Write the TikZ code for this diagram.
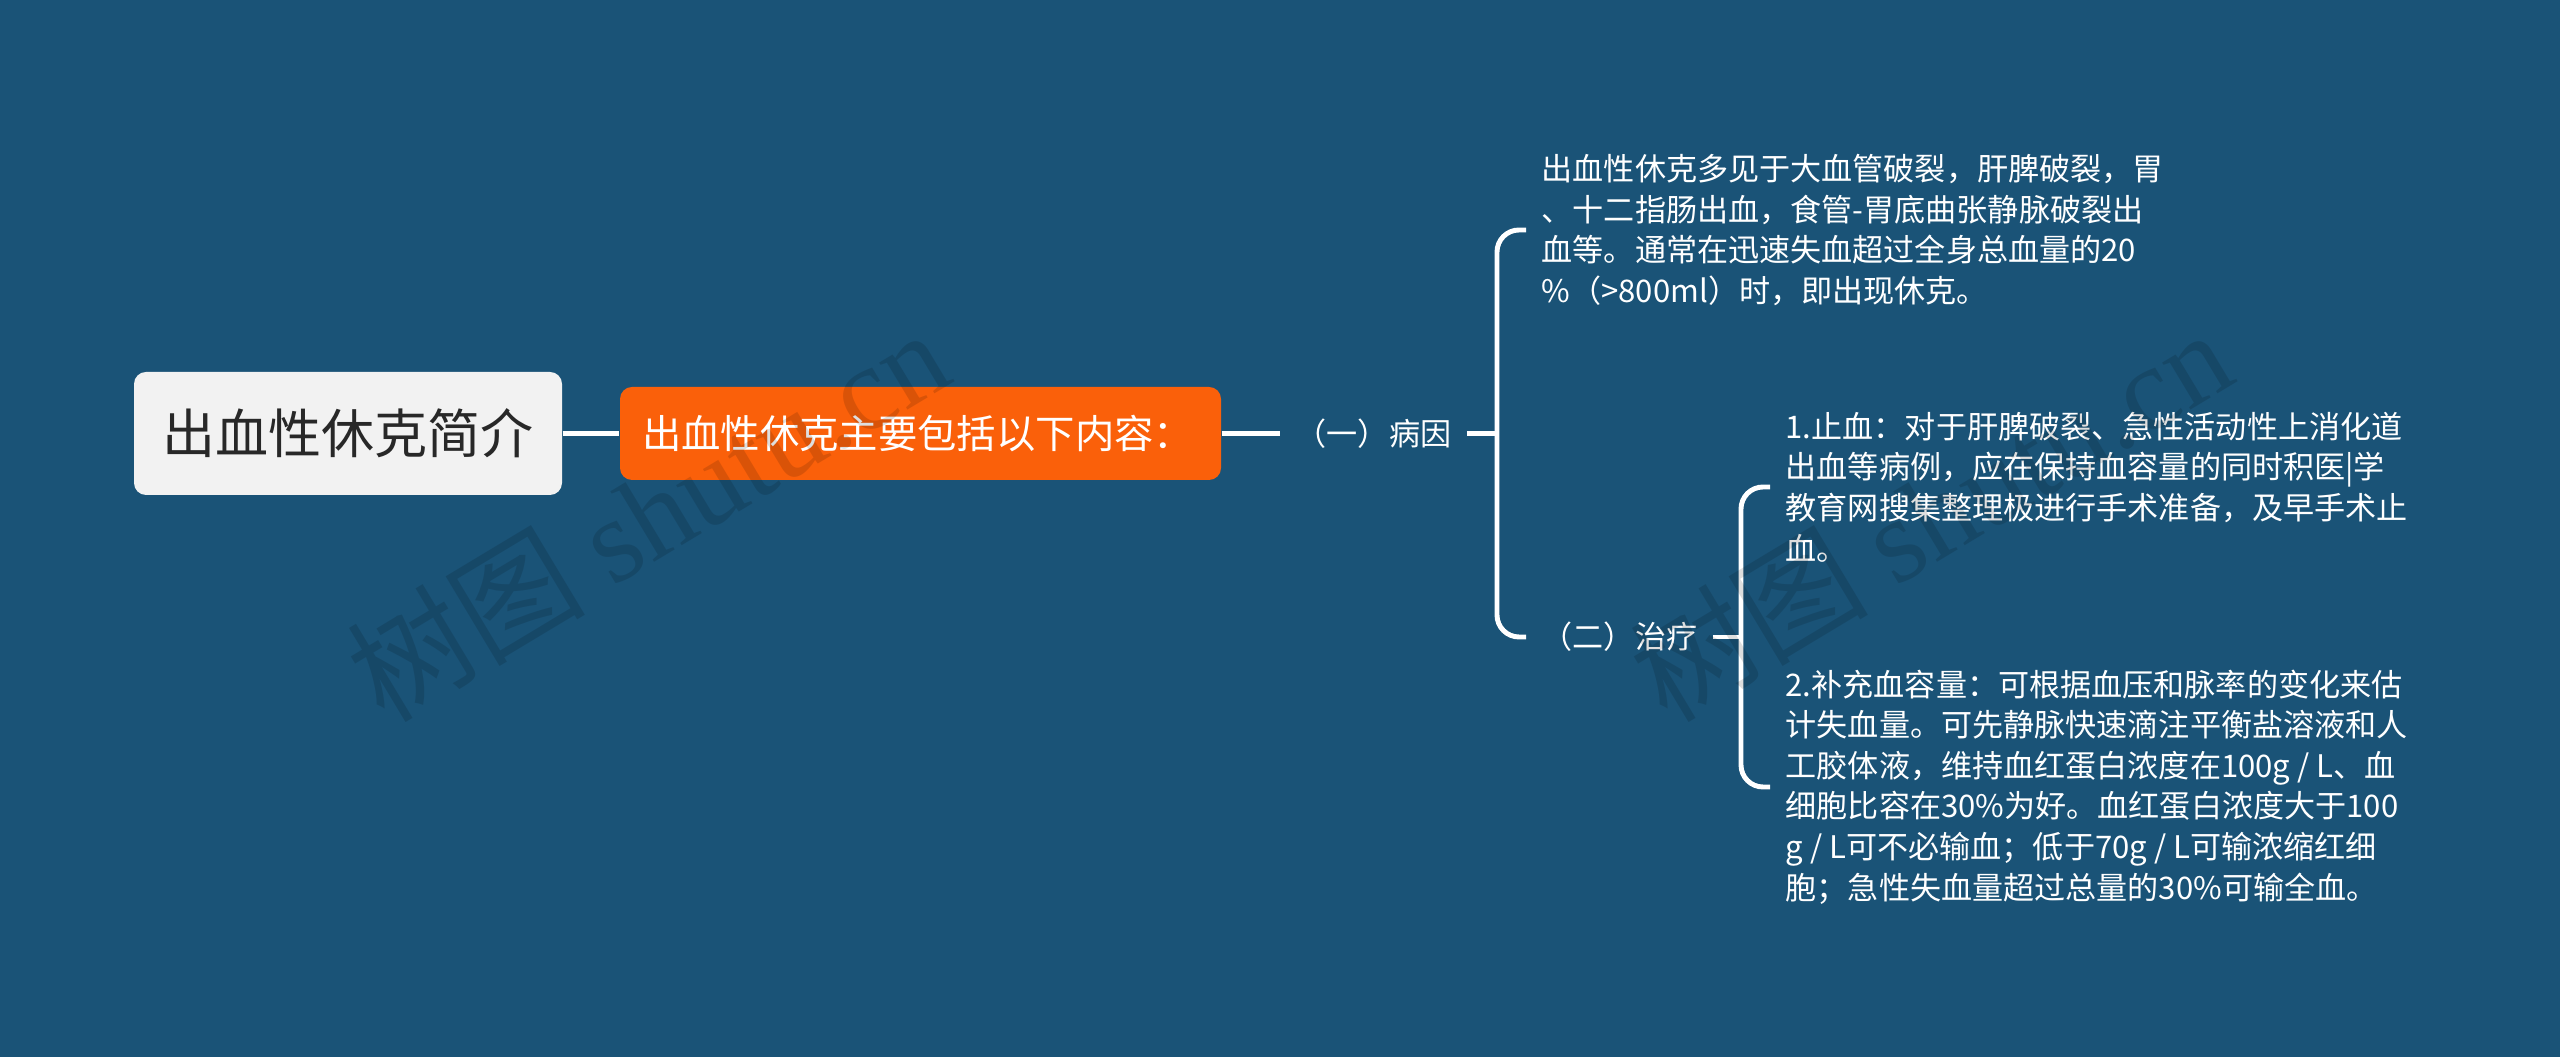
\documentclass[tikz,border=0pt]{standalone}
\usepackage{fontspec}
\setmainfont{Noto Sans CJK SC}
\newfontfamily\wmfont{Liberation Serif}
\definecolor{bgblue}{RGB}{26,83,119}
\definecolor{mainorange}{RGB}{250,96,10}
\definecolor{rootgray}{RGB}{242,242,242}
\definecolor{roottext}{RGB}{40,40,40}

\begin{document}
\begin{tikzpicture}[
  link/.style={draw=white, line width=1.4pt},
  rootbox/.style={fill=rootgray, text=roottext, rounded corners=0.12cm, minimum width=4.28cm, minimum height=1.23cm, font=\fontsize{15.1pt}{18pt}\selectfont},
  mainbox/.style={fill=mainorange, text=white, rounded corners=0.12cm, inner xsep=0.22cm, text width=5.57cm, align=left, minimum height=0.93cm, font=\fontsize{11.2pt}{13pt}\selectfont},
  sub/.style={text=white, inner sep=0.15cm, anchor=west, font=\fontsize{8.85pt}{11.5pt}\selectfont},
  leaf/.style={text=white, inner sep=0.15cm, anchor=west, align=left, font=\fontsize{8.85pt}{11.55pt}\selectfont},
  wmark/.style={text=black, opacity=0.13, rotate=31, font=\fontsize{34pt}{38pt}\selectfont}
]
\fill[bgblue] (0,0) rectangle (25.6,10.57);
\useasboundingbox (0,0) rectangle (25.6,10.57);

\node[rootbox] (root) at (3.48,6.235) {出血性休克简介};
\node[mainbox] (main) at (9.205,6.235) {出血性休克主要包括以下内容：};

\node[sub] (cause) at (12.80,6.235) {（一）病因};
\node[sub] (treat) at (15.26,4.20) {（二）治疗};

\node[leaf] (causetxt) at (15.26,8.27) {出血性休克多见于大血管破裂，肝脾破裂，胃\\、十二指肠出血，食管-胃底曲张静脉破裂出\\血等。通常在迅速失血超过全身总血量的20\\\%（>800ml）时，即出现休克。};
\node[leaf] (stoptxt) at (17.70,5.70) {1.止血：对于肝脾破裂、急性活动性上消化道\\出血等病例，应在保持血容量的同时积医|学\\教育网搜集整理极进行手术准备，及早手术止\\血。};
\node[leaf] (filltxt) at (17.70,2.70) {2.补充血容量：可根据血压和脉率的变化来估\\计失血量。可先静脉快速滴注平衡盐溶液和人\\工胶体液，维持血红蛋白浓度在100g / L、血\\细胞比容在30\%为好。血红蛋白浓度大于100\\g / L可不必输血；低于70g / L可输浓缩红细\\胞；急性失血量超过总量的30\%可输全血。};

\coordinate (fork1) at (14.97,6.235);
\coordinate (fork2) at (17.41,4.20);

\draw[link] (root) -- (main);
\draw[link] (main) -- (cause);
\draw[link] (cause) -- (fork1);
\draw[link, rounded corners=0.22cm] (causetxt.west) -| (fork1) |- (treat.west);
\draw[link] (treat) -- (fork2);
\draw[link, rounded corners=0.22cm] (stoptxt.west) -| (fork2) |- (filltxt.west);

\node[wmark] (mark1) at (6.47,5.43) {树图 {\wmfont shutu.cn}};
\node[wmark] (mark2) at (19.30,5.43) {树图 {\wmfont shutu.cn}};
\end{tikzpicture}
\end{document}
